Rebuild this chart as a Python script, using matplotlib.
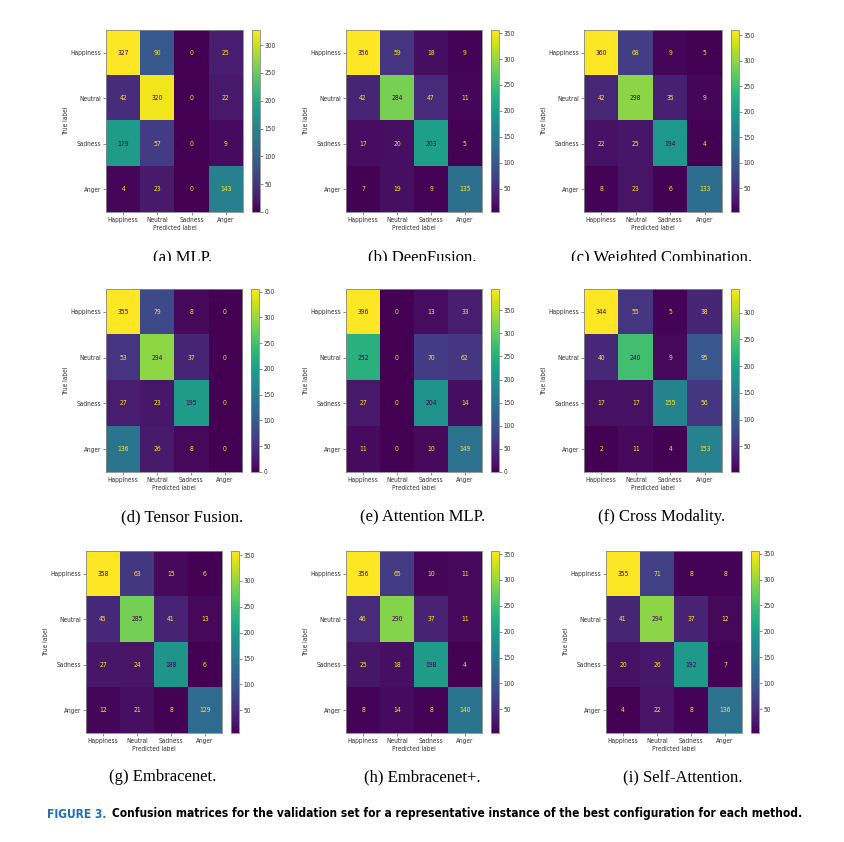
import numpy as np
import matplotlib
matplotlib.use("Agg")
import matplotlib.pyplot as plt
from matplotlib.ticker import MultipleLocator
from matplotlib.patches import Rectangle

# Matrices de confusión (validación) para cada método
clases = ["Happiness", "Neutral", "Sadness", "Anger"]

mlp = [[327, 90, 0, 25], [42, 320, 0, 22], [179, 57, 0, 9], [4, 23, 0, 143]]
deepfusion = [[356, 59, 18, 9], [42, 284, 47, 11], [17, 20, 203, 5], [7, 19, 9, 135]]
weighted = [[360, 68, 9, 5], [42, 298, 35, 9], [22, 25, 194, 4], [8, 23, 6, 133]]
tensor = [[355, 79, 8, 0], [53, 294, 37, 0], [27, 23, 195, 0], [136, 26, 8, 0]]
attention_mlp = [[396, 0, 13, 33], [252, 0, 70, 62], [27, 0, 204, 14], [11, 0, 10, 149]]
cross_modality = [[344, 55, 5, 38], [40, 240, 9, 95], [17, 17, 155, 56], [2, 11, 4, 153]]
embracenet = [[358, 63, 15, 6], [45, 285, 41, 13], [27, 24, 188, 6], [12, 21, 8, 129]]
embracenet_plus = [[356, 65, 10, 11], [46, 290, 37, 11], [25, 18, 198, 4], [8, 14, 8, 140]]
self_attention = [[355, 71, 8, 8], [41, 294, 37, 12], [20, 26, 192, 7], [4, 22, 8, 136]]

matrices = [mlp, deepfusion, weighted, tensor, attention_mlp, cross_modality,
            embracenet, embracenet_plus, self_attention]
subtitulos = ["(a) MLP.", "(b) DeepFusion.", "(c) Weighted Combination.",
              "(d) Tensor Fusion.", "(e) Attention MLP.", "(f) Cross Modality.",
              "(g) Embracenet.", "(h) Embracenet+.", "(i) Self-Attention."]

W, H = 844, 842
fig = plt.figure(figsize=(W / 100, H / 100), dpi=100)

# posiciones en pixeles (izq, der, arriba, abajo) de cada matriz
cajas = [(106, 243, 30, 212), (346, 482, 30, 212), (584, 722, 30, 212),
         (106, 242, 289, 472), (346, 482, 289, 472), (584, 722, 289, 472),
         (86, 222, 551, 733), (346, 482, 551, 733), (606, 742, 551, 733)]
fila_y = [258, 517, 777]


def rect(x0, x1, y0, y1):
    return [x0 / W, 1 - y1 / H, (x1 - x0) / W, (y1 - y0) / H]


cmap = plt.get_cmap("viridis")
fs = 4.7
gris = "#333333"
chico = dict(fontsize=fs, fontstretch="condensed")

for k, (cm, sub, (x0, x1, y0, y1)) in enumerate(zip(matrices, subtitulos, cajas)):
    cm = np.array(cm)
    ax = fig.add_axes(rect(x0, x1, y0, y1))
    im = ax.imshow(cm, cmap=cmap, vmin=cm.min(), vmax=cm.max(), aspect="auto",
                   interpolation="nearest")
    thresh = (cm.max() + cm.min()) / 2.0
    for i in range(4):
        for j in range(4):
            c = cmap(1.0) if cm[i, j] < thresh else cmap(0.0)
            ax.text(j, i, str(cm[i, j]), ha="center", va="center", color=c,
                    fontsize=fs + 0.2, fontstretch="condensed")
    ax.set_xticks(range(4))
    ax.set_yticks(range(4))
    ax.set_xticklabels(clases, **chico)
    ax.set_yticklabels(clases, **chico)
    ax.tick_params(length=2, width=0.4, pad=1.5, colors=gris)
    ax.set_xlabel("Predicted label", labelpad=1.5, color=gris, **chico)
    ax.set_ylabel("True label", labelpad=1, color=gris, **chico)
    for s in ax.spines.values():
        s.set_linewidth(0.6)
        s.set_color("#888888")

    cax = fig.add_axes(rect(x1 + 9, x1 + 17, y0, y1))
    cb = fig.colorbar(im, cax=cax)
    cb.locator = MultipleLocator(50)
    cb.update_ticks()
    cax.tick_params(labelsize=fs, length=2, width=0.4, pad=1.5, colors=gris)
    for lb in cax.get_yticklabels():
        lb.set_fontstretch("condensed")
    cb.outline.set_linewidth(0.6)
    cb.outline.set_edgecolor("#888888")

    # subtítulo
    cx = (x0 + x1 + 17) / 2
    fig.text(cx / W, 1 - fila_y[k // 3] / H, sub, ha="center", va="center",
             family="Liberation Serif", fontsize=12)

# la primera fila de subtítulos aparece recortada
fig.patches.append(Rectangle((0, 1 - 272 / H), 1, 11 / H, transform=fig.transFigure,
                             facecolor="white", edgecolor="none", zorder=10))

# leyenda de la figura, ajustada al ancho 47..802 px
txt_azul = "FIGURE 3."
txt_negro = ("Confusion matrices for the validation set for a representative instance "
             "of the best configuration for each method.")
est = dict(fontweight="bold", fontstretch="condensed", va="center", ha="left")
t1 = fig.text(47 / W, 1 - 814 / H, txt_azul, color="#1a6fc0", fontsize=9, **est)
t2 = fig.text(0.5, 1 - 814 / H, txt_negro, color="black", fontsize=9, **est)
fig.canvas.draw()
r = fig.canvas.get_renderer()
ancho = t1.get_window_extent(r).width + 6 + t2.get_window_extent(r).width
escala = 755 / ancho
t1.set_fontsize(9 * escala)
t2.set_fontsize(9 * escala)
fig.canvas.draw()
bb = t1.get_window_extent(r)
t2.set_x((bb.x1 + 6 * escala) / W)

fig.savefig("out.png", dpi=100)
